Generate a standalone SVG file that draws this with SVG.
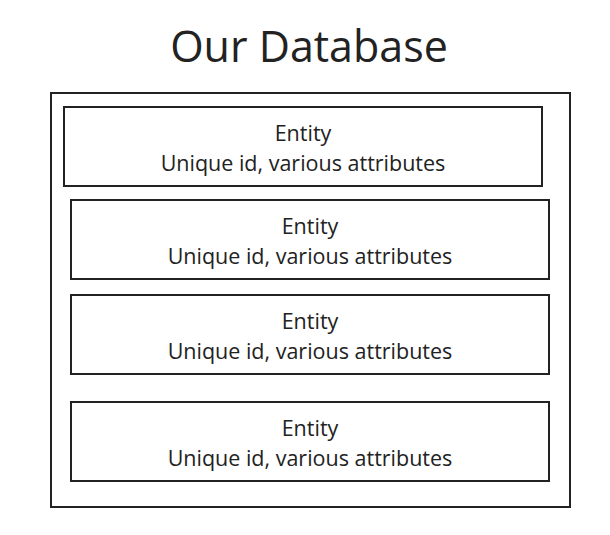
<svg xmlns="http://www.w3.org/2000/svg" width="610" height="535" viewBox="0 0 610 535">
<style>
.box{fill:#fff;stroke:#222;stroke-width:2}
.t{font-family:"Open Sans",sans-serif;font-size:21.5px;fill:#222;text-anchor:middle}
.title{font-family:"Open Sans",sans-serif;font-size:43px;fill:#222;text-anchor:middle}
</style>
<rect width="610" height="535" fill="#fff"/>
<text class="title" x="309" y="62">Our Database</text>
<g id="database">
<rect class="box" x="51" y="93" width="519" height="414"/>
</g>
<g id="entity1">
<rect class="box" x="64" y="107" width="478" height="79"/>
<text class="t" x="303" y="141">Entity</text>
<text class="t" x="303" y="171">Unique id, various attributes</text>
</g>
<g id="entity2">
<rect class="box" x="71" y="200" width="478" height="79"/>
<text class="t" x="310" y="234">Entity</text>
<text class="t" x="310" y="264">Unique id, various attributes</text>
</g>
<g id="entity3">
<rect class="box" x="71" y="295" width="478" height="79"/>
<text class="t" x="310" y="329">Entity</text>
<text class="t" x="310" y="359">Unique id, various attributes</text>
</g>
<g id="entity4">
<rect class="box" x="71" y="402" width="478" height="79"/>
<text class="t" x="310" y="436">Entity</text>
<text class="t" x="310" y="466">Unique id, various attributes</text>
</g>
<g id="connectors"></g>
</svg>
